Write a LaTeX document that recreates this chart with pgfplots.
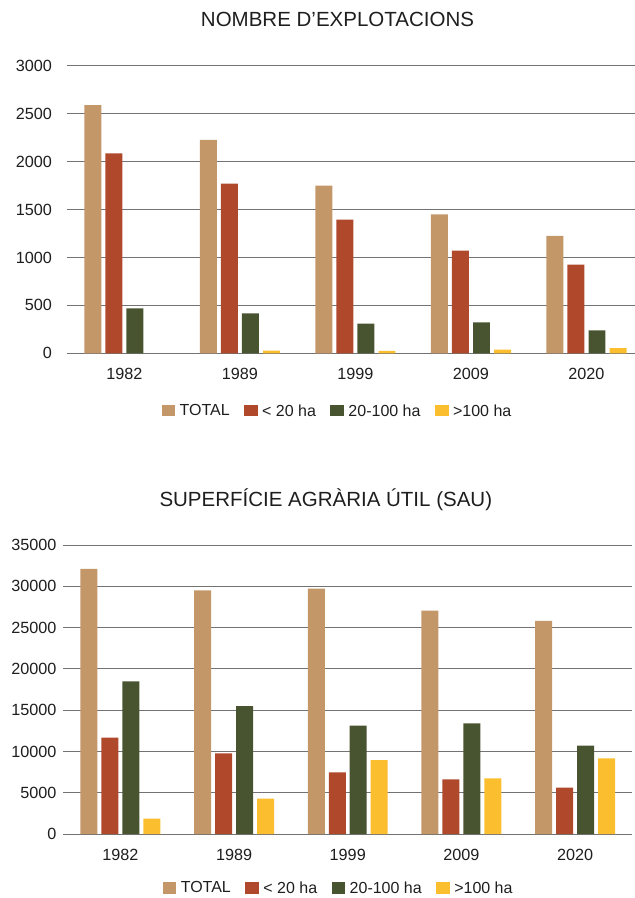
\documentclass[border=0pt]{standalone}
\usepackage{pgfplots}
\pgfplotsset{compat=1.18}
\usepackage{fontspec}
\setmainfont{Liberation Sans}
\definecolor{ctot}{RGB}{196,151,104}
\definecolor{clt}{RGB}{176,72,44}
\definecolor{cmid}{RGB}{72,84,48}
\definecolor{cgt}{RGB}{251,190,46}
\definecolor{cgrid}{RGB}{115,115,115}
\definecolor{ctext}{RGB}{30,30,30}
\pgfplotsset{
  mybars/.style={
    scale only axis, ybar,
    xmin=-0.5, ymin=0,
    axis line style={draw=none},
    major tick length=0pt,
    ymajorgrids, grid style={cgrid, line width=0.9pt},
    xtick={0,1,2,3,4}, xticklabels={1982,1989,1999,2009,2020},
    tick label style={font=\fontsize{16.2}{19}\selectfont, text=ctext},
    /pgf/number format/assume math mode=true,
    /pgf/number format/set thousands separator={},
    scaled y ticks=false,
    xticklabel style={inner sep=0pt, anchor=north, yshift=-15pt},
    legend columns=4,
    legend style={draw=none, fill=none, font=\fontsize{16}{19}\selectfont, text=ctext,
      /tikz/every even column/.append style={column sep=13pt},
      /tikz/every odd column/.append style={column sep=3pt},
      nodes={inner sep=1.5pt}},
    legend image code/.code={\fill[##1] (0pt,-5.5pt) rectangle (13.5pt,6pt);},
    title style={font=\fontsize{20.5}{24}\selectfont, text=ctext, anchor=center},
  },
  sTot/.style={fill=ctot, draw=none},
  sLt/.style={fill=clt, draw=none},
  sMid/.style={fill=cmid, draw=none},
  sGt/.style={fill=cgt, draw=none},
}
\begin{document}
\begin{tikzpicture}
\useasboundingbox (0,0) rectangle (635pt,898pt);
% top chart
\begin{axis}[mybars,
  at={(66.7pt,544.7pt)}, anchor=south west,
  width=568.3pt, height=287.6pt,
  xmax=4.42, ymax=3000, ytick={0,500,...,3000},
  yticklabel style={inner sep=0pt, anchor=east, xshift=-14.5pt},
  bar width=0.147,
  title={NOMBRE D’EXPLOTACIONS},
  title style={at={(0.4765,1.1415)}},
  legend style={at={(0.476,-0.2006)}, anchor=center},
]
\addplot[sTot, bar shift=-0.273] coordinates {(0,2590) (1,2225) (2,1748) (3,1450) (4,1224)};
\addplot[sLt, bar shift=-0.091] coordinates {(0,2085) (1,1769) (2,1394) (3,1070) (4,924)};
\addplot[sMid, bar shift=0.091] coordinates {(0,469) (1,417) (2,309) (3,323) (4,240)};
\addplot[sGt, bar shift=0.273] coordinates {(1,28) (2,24) (3,38) (4,55)};
\legend{TOTAL,{< 20 ha},{20-100 ha},{>100 ha}}
\end{axis}
% bottom chart
\begin{axis}[mybars,
  at={(63.5pt,64pt)}, anchor=south west,
  width=568.5pt, height=289pt,
  xmax=4.5, ymax=35000, ytick={0,5000,...,35000},
  yticklabel style={inner sep=0pt, anchor=east, xshift=-7pt},
  bar width=0.1495,
  title={SUPERFÍCIE AGRÀRIA ÚTIL (SAU)},
  title style={at={(0.4614,1.135)}},
  legend style={at={(0.4836,-0.187)}, anchor=center},
]
\addplot[sTot, bar shift=-0.277] coordinates {(0,32100) (1,29510) (2,29710) (3,27045) (4,25800)};
\addplot[sLt, bar shift=-0.0923] coordinates {(0,11660) (1,9770) (2,7470) (3,6620) (4,5610)};
\addplot[sMid, bar shift=0.0923] coordinates {(0,18490) (1,15500) (2,13120) (3,13400) (4,10700)};
\addplot[sGt, bar shift=0.277] coordinates {(0,1860) (1,4280) (2,8960) (3,6740) (4,9160)};
\legend{TOTAL,{< 20 ha},{20-100 ha},{>100 ha}}
\end{axis}
\end{tikzpicture}
\end{document}
